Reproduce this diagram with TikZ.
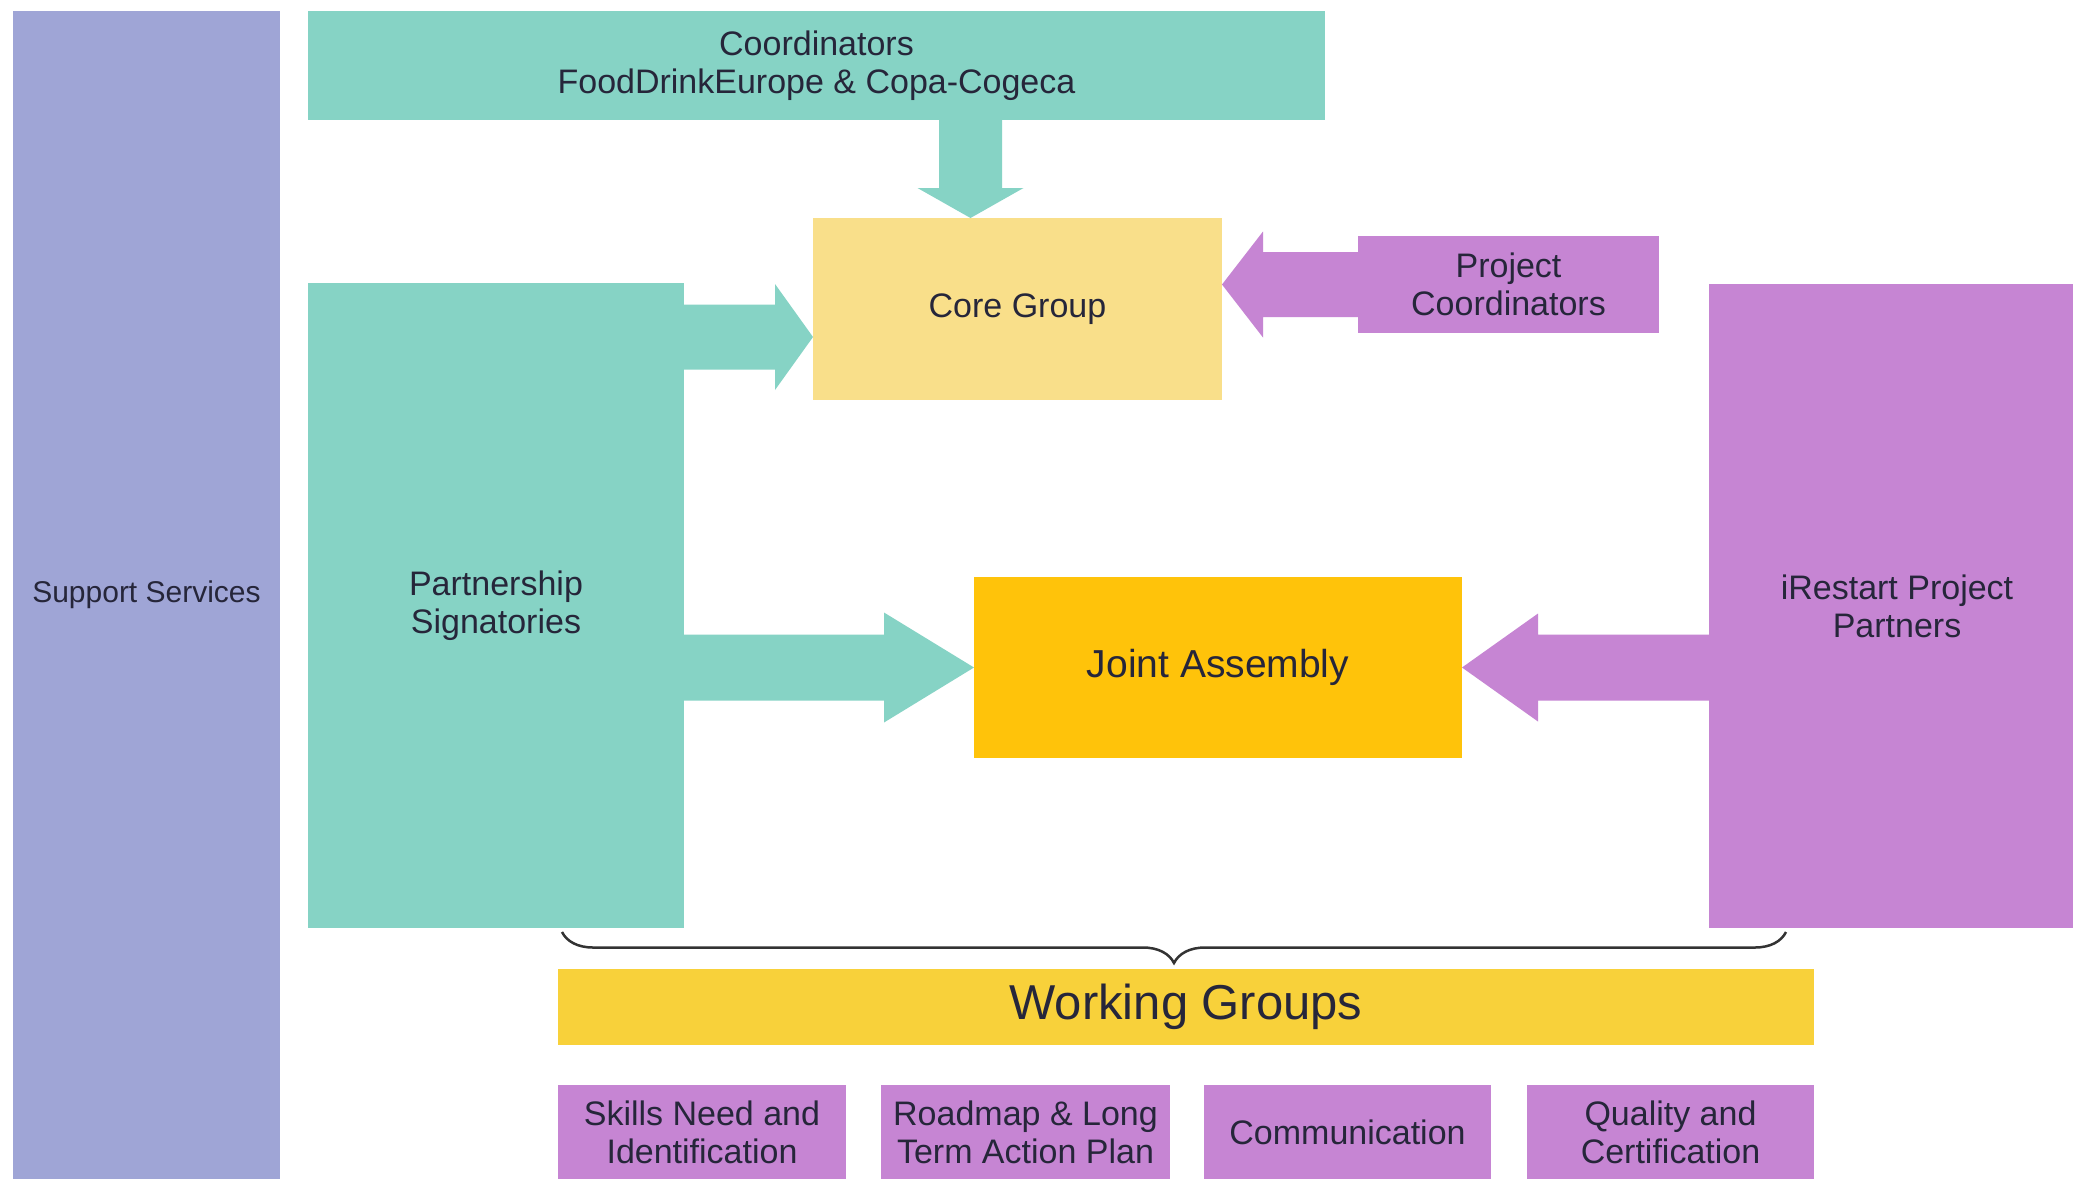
\documentclass[tikz,border=0pt]{standalone}
\usepackage{fontspec}
\setmainfont{Liberation Sans}
\usetikzlibrary{calc,decorations.pathreplacing}
\definecolor{supc}{HTML}{9FA5D6}
\definecolor{tealc}{HTML}{86D3C5}
\definecolor{purc}{HTML}{C685D3}
\definecolor{corec}{HTML}{F9DF8A}
\definecolor{jac}{HTML}{FFC30A}
\definecolor{wgc}{HTML}{F8D13A}
\definecolor{txtc}{HTML}{26263A}
\definecolor{bracec}{HTML}{333333}
\newcommand{\blockarr}[6]{%
  \coordinate (hb) at ($(#2)!#5!(#1)$);
  \fill[#6] ($(#1)!#3!90:(#2)$) -- ($(hb)!#3!90:(#2)$) -- ($(hb)!#4!90:(#2)$) -- (#2)
    -- ($(hb)!#4!-90:(#2)$) -- ($(hb)!#3!-90:(#2)$) -- ($(#1)!#3!-90:(#2)$) -- cycle;
}
\tikzset{
  box/.style={rectangle, inner sep=0pt, outer sep=0pt, align=center, text=txtc,
    font=\fontsize{34}{38}\selectfont},
}
\begin{document}
\begin{tikzpicture}[x=1pt,y=-1pt]
\fill[white] (0,0) rectangle (2073,1179);
\useasboundingbox (0,0) rectangle (2073,1179);

\node[box, fill=supc, minimum width=267pt, minimum height=1168pt, font=\fontsize{30}{34}\selectfont] (sup) at (146.5,595) {Support Services};
\node[box, fill=tealc, minimum width=1017pt, minimum height=109pt] (coord) at (816.5,65.5) {Coordinators\\FoodDrinkEurope \& Copa-Cogeca};
\node[box, fill=corec, minimum width=409pt, minimum height=182pt] (core) at (1017.5,309) {Core Group};
\node[box, fill=purc, minimum width=301pt, minimum height=97pt] (pc) at (1508.5,284.5) {Project\\Coordinators};
\node[box, fill=tealc, minimum width=376pt, minimum height=645pt] (part) at (496,605.5) {Partnership\\Signatories};
\node[box, fill=jac, minimum width=488pt, minimum height=181pt, font=\fontsize{39}{44}\selectfont] (ja) at (1218,667.5) {Joint Assembly};
\node[box, fill=purc, minimum width=376pt, minimum height=644pt] (irp) at (1897,606) {iRestart Project\\Partners};
\node[box, fill=wgc, minimum width=1256pt, minimum height=76pt, font=\fontsize{49}{54}\selectfont] (wg) at (1186,1007) {Working Groups};

\node[box, fill=purc, minimum width=288pt, minimum height=94pt] (wg1) at (702,1132) {Skills Need and\\Identification};
\node[box, fill=purc, minimum width=289pt, minimum height=94pt] (wg2) at (1025.5,1132) {Roadmap \& Long\\Term Action Plan};
\node[box, fill=purc, minimum width=287pt, minimum height=94pt] (wg3) at (1347.5,1132) {Communication};
\node[box, fill=purc, minimum width=287pt, minimum height=94pt] (wg4) at (1670.5,1132) {Quality and\\Certification};

% block arrows
\coordinate (a1s) at ([xshift=154pt]coord.south);
\coordinate (a1e) at (a1s |- core.north);
\blockarr{a1s}{a1e}{31.5pt}{53pt}{30pt}{tealc}

\coordinate (a2s) at (part.east |- 0,337);
\coordinate (a2e) at (core.west |- 0,337);
\blockarr{a2s}{a2e}{32.5pt}{53pt}{38pt}{tealc}

\coordinate (a3s) at (pc.west |- 0,284.5);
\coordinate (a3e) at (core.east |- 0,284.5);
\blockarr{a3s}{a3e}{32.5pt}{53pt}{41pt}{purc}

\coordinate (a4s) at (part.east |- ja.west);
\blockarr{a4s}{ja.west}{33pt}{55pt}{90pt}{tealc}

\coordinate (a5s) at (irp.west |- ja.east);
\blockarr{a5s}{ja.east}{33pt}{54pt}{76pt}{purc}

% brace
\coordinate (bl) at (562,932);
\coordinate (br) at (1786,932);
\draw[bracec, line width=2.5pt, decorate, decoration={brace, mirror, amplitude=31pt}] (bl) -- (br);
\end{tikzpicture}
\end{document}
